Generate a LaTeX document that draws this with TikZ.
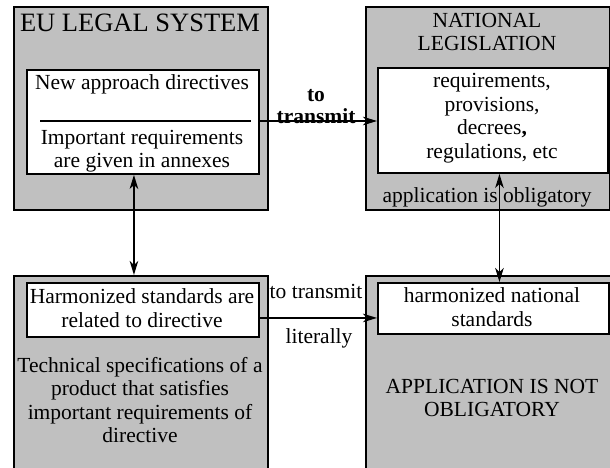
\documentclass[tikz,border=0pt]{standalone}
\usepackage{fontspec}
\setmainfont{Liberation Serif}
\usepackage{xcolor}
\usepackage{tikz}
\usetikzlibrary{arrows.meta}

\definecolor{panelgray}{RGB}{192,192,192}

\tikzset{
  panel/.style={draw, line width=1.9bp, fill=panelgray, anchor=north west, inner sep=0pt},
  card/.style={draw, line width=1.9bp, fill=white, anchor=north west, inner sep=0pt},
  txt/.style={font=\fontsize{21.5bp}{23.5bp}\selectfont, align=center, inner sep=0pt},
  link/.style={line width=1.7bp, -{Stealth[length=14bp,width=8.5bp,inset=4bp]}},
  dlink/.style={line width=1.7bp, {Stealth[length=14bp,width=8.5bp,inset=4bp]}-{Stealth[length=14bp,width=8.5bp,inset=4bp]}}
}

\begin{document}
\begin{tikzpicture}[x=1bp,y=-1bp]
  \clip (0,0) rectangle (610,468);
  \fill[white] (0,0) rectangle (610,468);

  % upper left: EU legal system
  \node[panel, minimum width=254bp, minimum height=203bp] (eu) at (13,6) {};
  \node[txt, font=\fontsize{26.5bp}{28bp}\selectfont] (eutitle) at (140,23) {EU LEGAL SYSTEM};
  \node[card, minimum width=232bp, minimum height=104bp] (euin) at (26,69) {};
  \node[txt] (nad) at (142,84) {New approach directives};
  \coordinate (sepa) at (40,121);
  \coordinate (sepb) at (251,121);
  \draw[line width=1.5bp] (sepa) -- (sepb);
  \node[txt] (ireq) at (142,151) {Important requirements\\are given in annexes};

  % upper right: national legislation
  \node[panel, minimum width=244bp, minimum height=203bp] (nat) at (365,6) {};
  \node[txt] (nattitle) at (487,32) {NATIONAL\\LEGISLATION};
  \node[card, minimum width=230bp, minimum height=105bp] (natin) at (377,67) {};
  \node[txt] (reqs) at (492,118) {requirements,\\provisions,\\decrees\textbf{,}\\regulations, etc};
  \node[txt] (oblig) at (487,197) {application is obligatory};

  % lower left: harmonized standards
  \node[panel, minimum width=254bp, minimum height=210bp] (hs) at (13,275) {};
  \node[card, minimum width=232bp, minimum height=54bp] (hsin) at (26,282) {};
  \node[txt] (hstext) at (142,308) {Harmonized standards are\\related to directive};
  \node[txt] (techspec) at (140,400) {Technical specifications of a\\product that satisfies\\important requirements of\\directive};

  % lower right: national standards
  \node[panel, minimum width=260bp, minimum height=210bp] (hn) at (365,275) {};
  \node[card, minimum width=231bp, minimum height=51bp] (hnin) at (377,282) {};
  \node[txt] (hntext) at (492,307) {harmonized national\\standards};
  \node[txt] (notoblig) at (492,398) {APPLICATION IS NOT\\OBLIGATORY};

  % connectors
  \draw[link] (euin.east |- sepb) -- (natin.west |- sepb);
  \node[txt, font=\bfseries\fontsize{21.5bp}{22bp}\selectfont] (tt1) at (316,107) {to\\transmit};
  \draw[link] ([yshift=-8bp]hsin.east) -- ([yshift=-8bp]hsin.east -| hnin.west);
  \node[txt] (tt2) at (316,291) {to transmit};
  \node[txt] (lit) at (319,338) {literally};
  \draw[dlink] ([xshift=-9bp]euin.south) -- ([xshift=-9bp]euin.south |- hs.north);
  \draw[dlink] ([xshift=6.5bp]natin.south) -- ([xshift=6.5bp]natin.south |- hnin.north);
\end{tikzpicture}
\end{document}
